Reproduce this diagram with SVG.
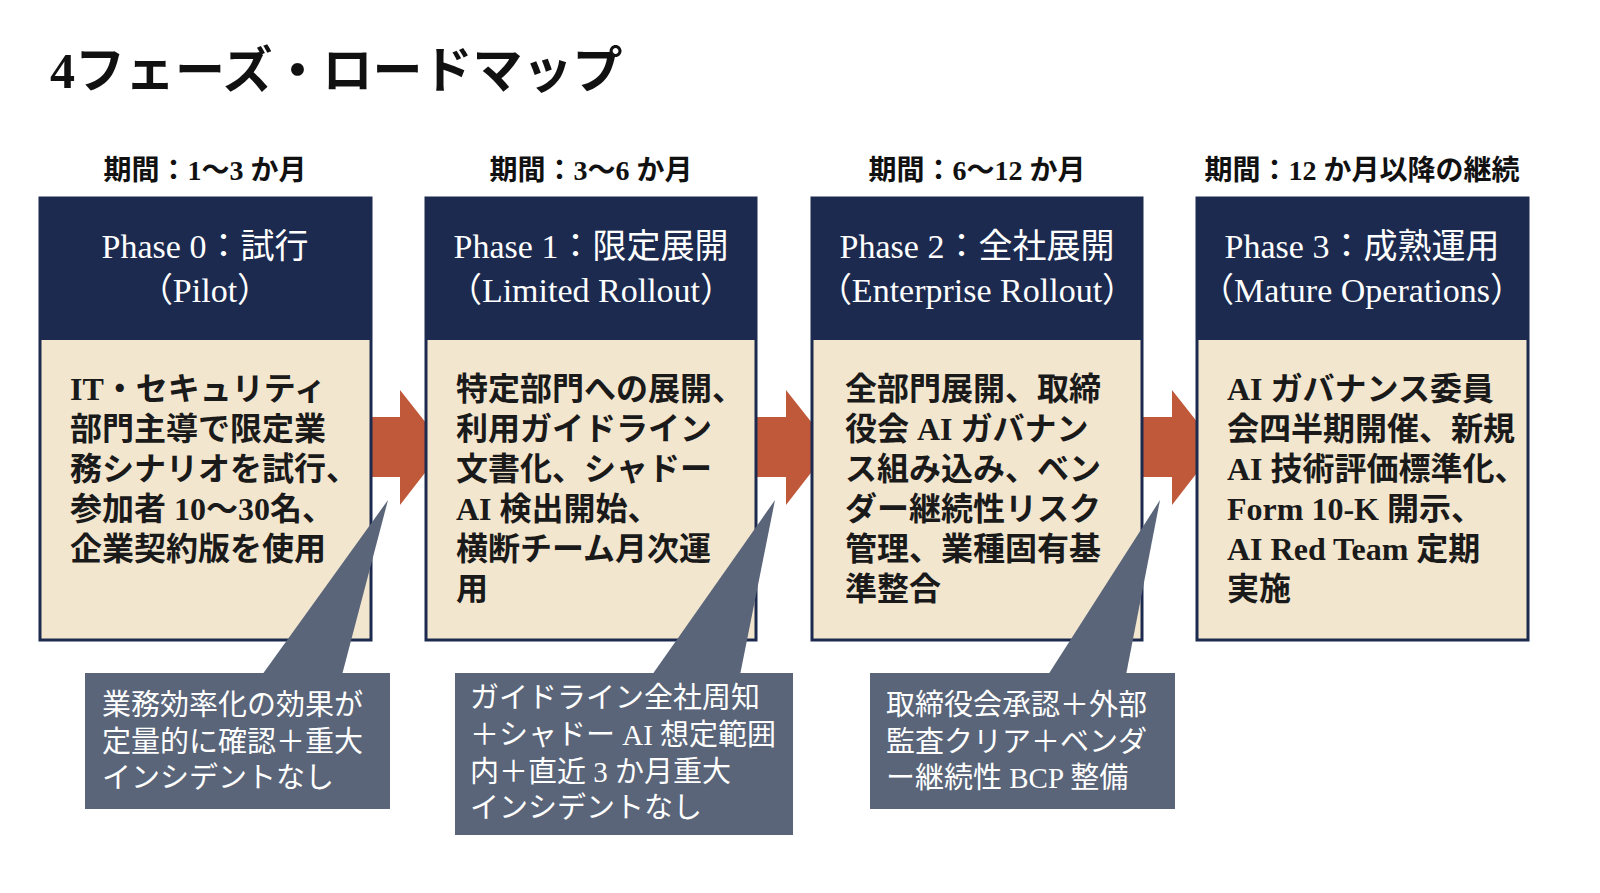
<svg xmlns="http://www.w3.org/2000/svg" width="1600" height="893" viewBox="0 0 1600 893">
<style>
.t{font-family:"Liberation Serif","Noto Sans CJK JP",serif;}
.title{font-size:50px;font-weight:bold;fill:#111}
.per{font-size:28px;font-weight:bold;fill:#111;text-anchor:middle}
.hd{font-size:34px;fill:#fff;text-anchor:middle}
.bd{font-size:32px;font-weight:bold;fill:#1a1a1a}
.cl{font-size:29px;fill:#fff}
.head{fill:#1c2a4f}
.body{fill:#f3e6cf;stroke:#1c2a4f;stroke-width:3}
.arr{fill:#c0583a}
.call{fill:#5a6579}
</style>
<rect width="1600" height="893" fill="#fff"/>
<text class="t title" x="50" y="88">4フェーズ・ロードマップ</text>
<g id="connectors">
<polygon class="arr" points="352,417 400,417 400,390 445,447 400,505 400,477 352,477"/>
<polygon class="arr" points="738,417 786,417 786,390 831,447 786,505 786,477 738,477"/>
<polygon class="arr" points="1124,417 1172,417 1172,390 1217,447 1172,505 1172,477 1124,477"/>
</g>
<g id="phase0">
<text class="t per" x="205" y="180">期間：1〜3 か月</text>
<rect class="body" x="40" y="198" width="331" height="442"/>
<rect class="head" x="40" y="198" width="331" height="142"/>
<text class="t hd" x="205" y="258">Phase 0：試行</text>
<text class="t hd" x="205" y="302">（Pilot）</text>
<text class="t bd" x="70" y="400">IT・セキュリティ</text>
<text class="t bd" x="70" y="440">部門主導で限定業</text>
<text class="t bd" x="70" y="480">務シナリオを試行、</text>
<text class="t bd" x="70" y="520">参加者 10〜30名、</text>
<text class="t bd" x="70" y="560">企業契約版を使用</text>
</g>
<g id="phase1">
<text class="t per" x="591" y="180">期間：3〜6 か月</text>
<rect class="body" x="426" y="198" width="330" height="442"/>
<rect class="head" x="426" y="198" width="330" height="142"/>
<text class="t hd" x="591" y="258">Phase 1：限定展開</text>
<text class="t hd" x="591" y="302">（Limited Rollout）</text>
<text class="t bd" x="456" y="400">特定部門への展開、</text>
<text class="t bd" x="456" y="440">利用ガイドライン</text>
<text class="t bd" x="456" y="480">文書化、シャドー</text>
<text class="t bd" x="456" y="520">AI 検出開始、</text>
<text class="t bd" x="456" y="560">横断チーム月次運</text>
<text class="t bd" x="456" y="600">用</text>
</g>
<g id="phase2">
<text class="t per" x="977" y="180">期間：6〜12 か月</text>
<rect class="body" x="812" y="198" width="330" height="442"/>
<rect class="head" x="812" y="198" width="330" height="142"/>
<text class="t hd" x="977" y="258">Phase 2：全社展開</text>
<text class="t hd" x="977" y="302">（Enterprise Rollout）</text>
<text class="t bd" x="845" y="400">全部門展開、取締</text>
<text class="t bd" x="845" y="440">役会 AI ガバナン</text>
<text class="t bd" x="845" y="480">ス組み込み、ベン</text>
<text class="t bd" x="845" y="520">ダー継続性リスク</text>
<text class="t bd" x="845" y="560">管理、業種固有基</text>
<text class="t bd" x="845" y="600">準整合</text>
</g>
<g id="phase3">
<text class="t per" x="1362" y="180">期間：12 か月以降の継続</text>
<rect class="body" x="1197" y="198" width="331" height="442"/>
<rect class="head" x="1197" y="198" width="331" height="142"/>
<text class="t hd" x="1362" y="258">Phase 3：成熟運用</text>
<text class="t hd" x="1362" y="302">（Mature Operations）</text>
<text class="t bd" x="1227" y="400">AI ガバナンス委員</text>
<text class="t bd" x="1227" y="440">会四半期開催、新規</text>
<text class="t bd" x="1227" y="480">AI 技術評価標準化、</text>
<text class="t bd" x="1227" y="520">Form 10-K 開示、</text>
<text class="t bd" x="1227" y="560">AI Red Team 定期</text>
<text class="t bd" x="1227" y="600">実施</text>
</g>
<g id="callout0">
<polygon class="call" points="262,675 342,675 388,500"/>
<rect class="call" x="85" y="673" width="305" height="136"/>
<text class="t cl" x="102" y="715">業務効率化の効果が</text>
<text class="t cl" x="102" y="752">定量的に確認＋重大</text>
<text class="t cl" x="102" y="788">インシデントなし</text>
</g>
<g id="callout1">
<polygon class="call" points="652,675 740,675 775,500"/>
<rect class="call" x="455" y="673" width="338" height="162"/>
<text class="t cl" x="470" y="708">ガイドライン全社周知</text>
<text class="t cl" x="470" y="745">＋シャドー AI 想定範囲</text>
<text class="t cl" x="470" y="782">内＋直近 3 か月重大</text>
<text class="t cl" x="470" y="818">インシデントなし</text>
</g>
<g id="callout2">
<polygon class="call" points="1048,675 1126,675 1160,500"/>
<rect class="call" x="870" y="673" width="305" height="136"/>
<text class="t cl" x="886" y="715">取締役会承認＋外部</text>
<text class="t cl" x="886" y="752">監査クリア＋ベンダ</text>
<text class="t cl" x="886" y="788">ー継続性 BCP 整備</text>
</g>
</svg>
